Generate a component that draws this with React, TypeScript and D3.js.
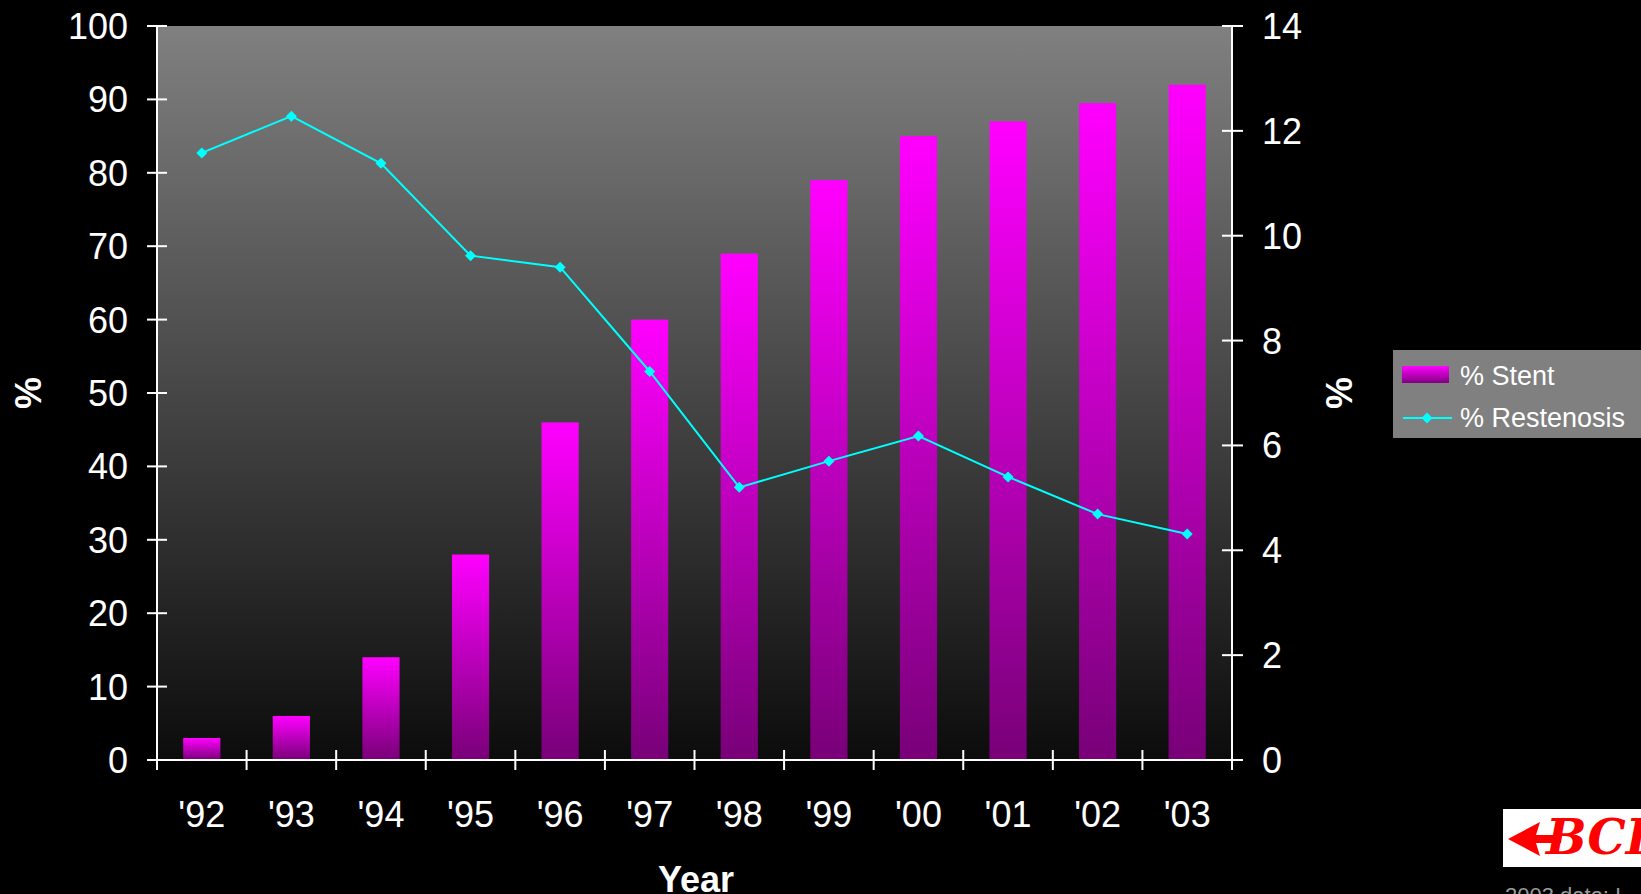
import React from "react";
import * as d3 from "d3";

const years = ["'92", "'93", "'94", "'95", "'96", "'97", "'98", "'99", "'00", "'01", "'02", "'03"];
const stentPct = [3, 6, 14, 28, 46, 60, 69, 79, 85, 87, 89.5, 92];
const restenosisPct = [11.58, 12.28, 11.38, 9.62, 9.4, 7.41, 5.2, 5.7, 6.18, 5.4, 4.69, 4.31];
const leftTicks = [0, 10, 20, 30, 40, 50, 60, 70, 80, 90, 100];
const rightTicks = [0, 2, 4, 6, 8, 10, 12, 14];

const W = 1641;
const H = 894;
const M = { left: 157, right: 1232, top: 26, bottom: 760 };
const FONT = "'Liberation Sans', Arial, sans-serif";

export default function App() {
  const x = d3.scaleBand<string>().domain(years).range([M.left, M.right]).paddingInner(0).paddingOuter(0);
  const yL = d3.scaleLinear().domain([0, 100]).range([M.bottom, M.top]);
  const yR = d3.scaleLinear().domain([0, 14]).range([M.bottom, M.top]);
  const bw = x.bandwidth() * 0.415;
  const line = d3
    .line<number>()
    .x((_, i) => (x(years[i]) as number) + x.bandwidth() / 2)
    .y((d) => yR(d));
  const diamond = (cx: number, cy: number, r: number) =>
    `M${cx},${cy - r}L${cx + r},${cy}L${cx},${cy + r}L${cx - r},${cy}Z`;
  const xTickPos = years.map((y) => x(y) as number).concat([M.right]);

  return (
    <svg width={W} height={H} style={{ position: "absolute", left: 0, top: 0, background: "#000" }}>
      <defs>
        <linearGradient id="bg" x1="0" y1="0" x2="0" y2="1">
          <stop offset="0" stopColor="#808080" />
          <stop offset="1" stopColor="#0c0c0c" />
        </linearGradient>
        <linearGradient id="bar" x1="0" y1="0" x2="0" y2="1">
          <stop offset="0" stopColor="#FF00FF" />
          <stop offset="1" stopColor="#780078" />
        </linearGradient>
        <linearGradient id="legbar" x1="0" y1="0" x2="0" y2="1">
          <stop offset="0" stopColor="#FF00FF" />
          <stop offset="1" stopColor="#800080" />
        </linearGradient>
      </defs>
      <rect x={0} y={0} width={W} height={H} fill="#000" />
      <rect x={M.left} y={M.top} width={M.right - M.left} height={M.bottom - M.top} fill="url(#bg)" />

      {stentPct.map((v, i) => (
        <rect
          key={years[i]}
          x={(x(years[i]) as number) + (x.bandwidth() - bw) / 2}
          y={yL(v)}
          width={bw}
          height={yL(0) - yL(v)}
          fill="url(#bar)"
        />
      ))}

      <path d={line(restenosisPct) || ""} fill="none" stroke="#00FFFF" strokeWidth={2} />
      {restenosisPct.map((v, i) => (
        <path
          key={"m" + i}
          d={diamond((x(years[i]) as number) + x.bandwidth() / 2, yR(v), 5.5)}
          fill="#00FFFF"
        />
      ))}

      {/* axes */}
      <g stroke="#fff" strokeWidth={2}>
        <line x1={M.left} x2={M.left} y1={M.top} y2={M.bottom} />
        <line x1={M.right} x2={M.right} y1={M.top} y2={M.bottom} />
        <line x1={M.left - 10} x2={M.right + 11} y1={M.bottom} y2={M.bottom} />
        {leftTicks.map((t) => (
          <line key={"lt" + t} x1={M.left - 10} x2={M.left + 10} y1={yL(t)} y2={yL(t)} />
        ))}
        {rightTicks.map((t) => (
          <line key={"rt" + t} x1={M.right - 10} x2={M.right + 11} y1={yR(t)} y2={yR(t)} />
        ))}
        {xTickPos.map((p, i) => (
          <line key={"xt" + i} x1={p} x2={p} y1={M.bottom - 10} y2={M.bottom + 10} />
        ))}
      </g>

      <g fill="#fff" fontFamily={FONT} fontSize={36}>
        {leftTicks.map((t) => (
          <text key={"ll" + t} x={128} y={yL(t)} dy="0.36em" textAnchor="end">
            {t}
          </text>
        ))}
        {rightTicks.map((t) => (
          <text key={"rl" + t} x={1262} y={yR(t)} dy="0.36em" textAnchor="start">
            {t}
          </text>
        ))}
        {years.map((y) => (
          <text key={"xl" + y} x={(x(y) as number) + x.bandwidth() / 2} y={827} textAnchor="middle">
            {y}
          </text>
        ))}
        <text x={696} y={892} textAnchor="middle" fontWeight="bold">
          Year
        </text>
        <text transform="translate(41,393) rotate(-90)" textAnchor="middle" fontWeight="bold">
          %
        </text>
        <text transform="translate(1352,393) rotate(-90)" textAnchor="middle" fontWeight="bold">
          %
        </text>
      </g>

      {/* legend */}
      <rect x={1393} y={350} width={W - 1393} height={88} fill="#808080" />
      <rect x={1402} y={366} width={47} height={17} fill="url(#legbar)" />
      <line x1={1403} x2={1452} y1={418} y2={418} stroke="#00FFFF" strokeWidth={2} />
      <path d={diamond(1427, 418, 5.5)} fill="#00FFFF" />
      <g fill="#fff" fontFamily={FONT} fontSize={27}>
        <text x={1460} y={385}>% Stent</text>
        <text x={1460} y={427}>% Restenosis</text>
      </g>

      {/* logo */}
      <rect x={1503} y={809} width={W - 1503} height={58} fill="#fff" />
      <path d="M1508,839 L1540,822 L1536,835 L1562,835 L1561,843 L1536,843 L1540,856 Z" fill="#f00" />
      <text x={1546} y={854} fontFamily="'DejaVu Serif', 'Liberation Serif', serif" fontWeight="bold" fontStyle="italic" fontSize={48} fill="#f00">
        BCI
      </text>
      <text x={1505} y={903} fontFamily={FONT} fontSize={22} fill="#9a9a9a">
        2003 data: I
      </text>
    </svg>
  );
}
